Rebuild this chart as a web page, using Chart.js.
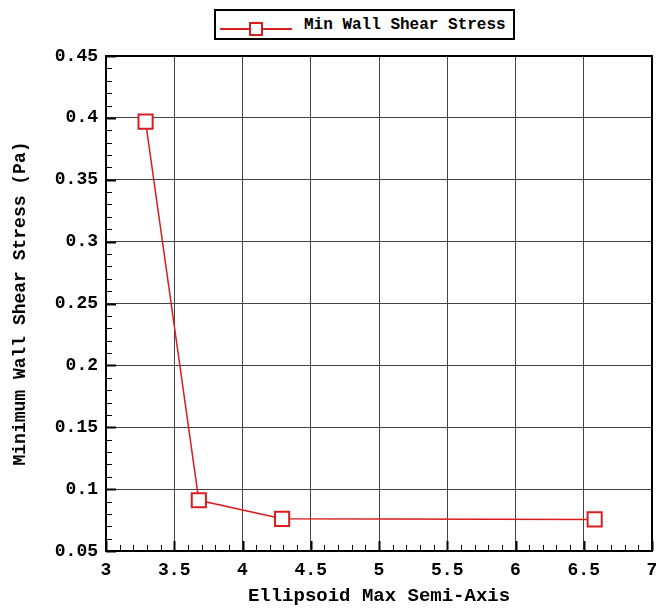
<!DOCTYPE html>
<html>
<head>
<meta charset="utf-8">
<script src="https://cdn.jsdelivr.net/npm/chart.js@4"></script>
<style>
  html, body { margin: 0; padding: 0; background: #fff; }
  #wrap { position: relative; width: 656px; height: 608px; }
  #legend {
    position: absolute; left: 214px; top: 9px; width: 301px; height: 31px;
    border: 2px solid #000; background: #fff; box-sizing: border-box;
    font: bold 16px "Liberation Mono", "Courier New", monospace; color: #000;
  }
  #legend .line { position: absolute; left: 4px; top: 17px; width: 72px; height: 2px; background: #d81e1e; }
  #legend .mark { position: absolute; left: 33px; top: 11px; width: 10px; height: 10px; border: 2px solid #d81e1e; background: #fff; }
  #legend .txt { position: absolute; left: 88px; top: 5px; white-space: nowrap; }
</style>
</head>
<body>
<div id="wrap">
  <canvas id="c" width="656" height="608"></canvas>
  <div id="legend"><span class="line"></span><span class="mark"></span><span class="txt">Min Wall Shear Stress</span></div>
</div>
<script>
const semiAxis = [3.29, 3.68, 4.29, 6.58];
const minWss = [0.397, 0.091, 0.076, 0.0755];
const xTicks = [3, 3.5, 4, 4.5, 5, 5.5, 6, 6.5, 7];
const yTicks = [0.05, 0.1, 0.15, 0.2, 0.25, 0.3, 0.35, 0.4, 0.45];

const FONT = '"Liberation Mono", "Courier New", monospace';

// inward major / minor ticks, Tecplot style
const innerTicks = {
    id: 'innerTicks',
    afterDatasetsDraw(chart) {
        const { ctx, chartArea: a, scales: { x, y } } = chart;
        ctx.save();
        ctx.strokeStyle = '#000';
        for (let i = 0; i <= 40; i++) {
            const v = 3 + i * 0.1;
            const px = Math.round(x.getPixelForValue(v)) + 0.5;
            const len = i % 5 === 0 ? 10 : 6;
            ctx.lineWidth = i % 5 === 0 ? 2 : 1;
            ctx.beginPath();
            ctx.moveTo(px, a.bottom);
            ctx.lineTo(px, a.bottom - len);
            ctx.stroke();
        }
        for (let i = 0; i <= 40; i++) {
            const v = 0.05 + i * 0.01;
            const py = Math.round(y.getPixelForValue(v)) + 0.5;
            const len = i % 5 === 0 ? 10 : 6;
            ctx.lineWidth = i % 5 === 0 ? 2 : 1;
            ctx.beginPath();
            ctx.moveTo(a.left, py);
            ctx.lineTo(a.left + len, py);
            ctx.stroke();
        }
        ctx.lineWidth = 2;
        ctx.strokeRect(a.left, a.top, a.right - a.left, a.bottom - a.top);
        ctx.restore();
    },
};

new Chart(document.getElementById('c'), {
    type: 'line',
    data: {
        datasets: [{
            label: 'Min Wall Shear Stress',
            data: semiAxis.map((v, i) => ({ x: v, y: minWss[i] })),
            borderColor: '#d81e1e',
            borderWidth: 1.5,
            tension: 0,
            pointStyle: 'rect',
            pointRadius: 10,
            pointBorderWidth: 2,
            pointBorderColor: '#d81e1e',
            pointBackgroundColor: '#fff',
        }],
    },
    options: {
        responsive: false,
        animation: false,
        layout: { autoPadding: false, padding: { left: 0, right: 4, top: 56, bottom: 0 } },
        plugins: { legend: { display: false }, tooltip: { enabled: false } },
        scales: {
            x: {
                type: 'linear',
                min: 3,
                max: 7,
                afterBuildTicks(s) { s.ticks = xTicks.map((v) => ({ value: v })); },
                grid: { color: '#444', lineWidth: 1, drawTicks: false },
                border: { display: false },
                ticks: {
                    color: '#000',
                    padding: 9,
                    maxRotation: 0,
                    font: { family: FONT, size: 18, weight: 'bold' },
                    callback: (v) => String(v),
                },
                title: {
                    display: true,
                    text: 'Ellipsoid Max Semi-Axis',
                    color: '#000',
                    padding: { top: 14, bottom: 0 },
                    font: { family: FONT, size: 19, weight: 'bold' },
                },
                afterFit(s) {
                    s.height = 57;
                    s.paddingLeft = 0;
                    s.paddingRight = 0;
                },
            },
            y: {
                type: 'linear',
                min: 0.05,
                max: 0.45,
                afterBuildTicks(s) { s.ticks = yTicks.map((v) => ({ value: v })); },
                grid: { color: '#444', lineWidth: 1, drawTicks: false },
                border: { display: false },
                ticks: {
                    color: '#000',
                    padding: 8,
                    font: { family: FONT, size: 18, weight: 'bold' },
                    callback: (v) => String(+v.toFixed(2)),
                },
                title: {
                    display: true,
                    text: 'Minimum Wall Shear Stress (Pa)',
                    color: '#000',
                    padding: { top: 10, bottom: 0 },
                    font: { family: FONT, size: 18, weight: 'bold' },
                },
                afterFit(s) {
                    s.width = 106;
                    s.paddingTop = 0;
                    s.paddingBottom = 0;
                },
            },
        },
    },
    plugins: [innerTicks],
});
</script>
</body>
</html>
